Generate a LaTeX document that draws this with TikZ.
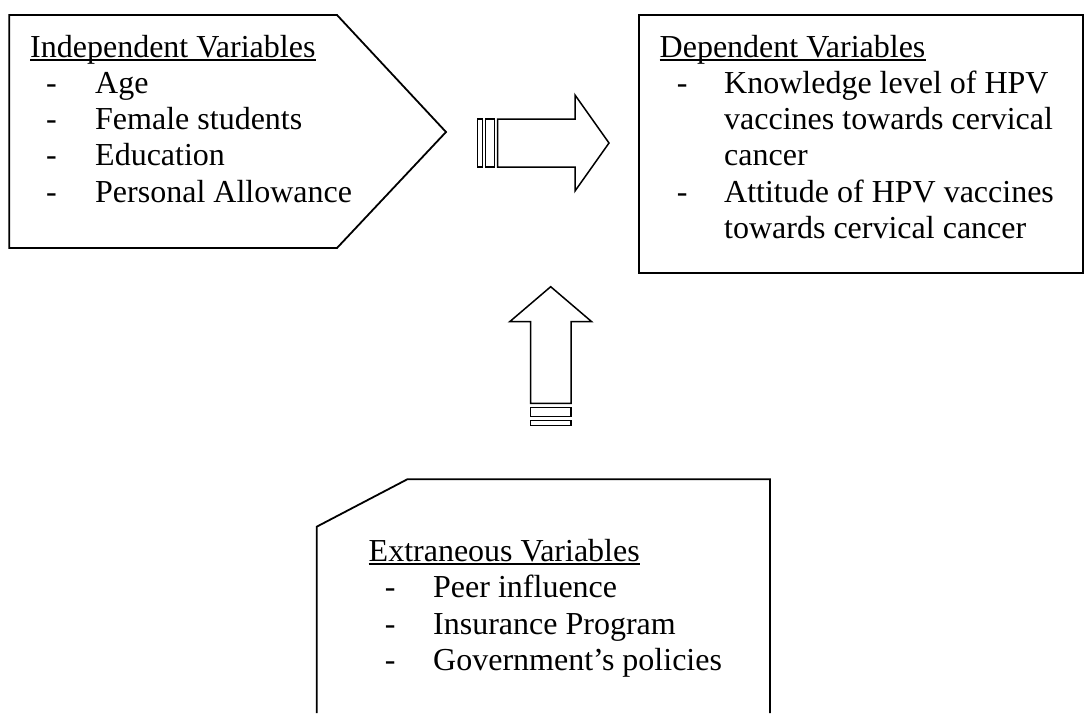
\documentclass[tikz,border=0pt]{standalone}
\usepackage{fontspec}
\setmainfont{Liberation Serif}

\begin{document}
\begin{tikzpicture}[x=1pt,y=-1pt,
    box/.style={line width=1.8pt,line join=miter},
    blockarrow/.style={line width=1.5pt,line join=miter},
    txt/.style={anchor=base west,inner sep=0pt,font=\fontsize{32}{36}\selectfont},
    uline/.style={line width=1.7pt}]
  \useasboundingbox (0,0) rectangle (1085,713);
  % boxes
  \draw[box] (9.3,15) -- (337,15) -- (446,132) -- (337,248) -- (9.3,248) -- cycle;
  \draw[box] (639.3,15) rectangle (1083,273);
  \draw[box] (316.7,713) -- (316.7,526.7) -- (407.3,479.3) -- (770,479.3) -- (770,713);
  % striped arrows
  \draw[blockarrow] (497.7,119) -- (575,119) -- (575,95) -- (609,143) -- (575,191)
    -- (575,167) -- (497.7,167) -- cycle;
  \draw[blockarrow] (477.7,119) rectangle (482.3,167);
  \draw[blockarrow] (485.7,119) rectangle (494.3,167);
  \draw[blockarrow] (530.7,403.3) -- (530.7,321.7) -- (509.7,321.7) -- (550.7,286.7)
    -- (591.7,321.7) -- (571,321.7) -- (571,403.3) -- cycle;
  \draw[blockarrow] (530.7,407.3) rectangle (571,416.7);
  \draw[blockarrow] (530.7,420.7) rectangle (571,425.3);
  % independent
  \node[txt] (indep) at (30,57) {Independent Variables};
  \draw[uline] ([yshift=-3pt]indep.base west) -- ([yshift=-3pt]indep.base east);
  \foreach \i/\lab in {1/Age,2/Female students,3/Education,4/Personal Allowance} {
    \node[txt] (ivd\i) at (46,57+36.3*\i) {-};
    \node[txt] (iv\i) at (95,57+36.3*\i) {\lab};
  }
  % dependent
  \node[txt] (dep) at (659.5,57) {Dependent Variables};
  \draw[uline] ([yshift=-3pt]dep.base west) -- ([yshift=-3pt]dep.base east);
  \foreach \i/\d/\lab in {1/-/Knowledge level of HPV,2//vaccines towards cervical,
      3//cancer,4/-/Attitude of HPV vaccines,5//towards cervical cancer} {
    \node[txt] (dvd\i) at (676.7,57+36.3*\i) {\d};
    \node[txt] (dv\i) at (724,57+36.3*\i) {\lab};
  }
  % extraneous
  \node[txt] (extra) at (368.5,561) {Extraneous Variables};
  \draw[uline] ([yshift=-3pt]extra.base west) -- ([yshift=-3pt]extra.base east);
  \foreach \i/\lab in {1/Peer influence,2/Insurance Program,3/Government’s policies} {
    \node[txt] (evd\i) at (384.7,561+36.5*\i) {-};
    \node[txt] (ev\i) at (433,561+36.5*\i) {\lab};
  }
\end{tikzpicture}
\end{document}
